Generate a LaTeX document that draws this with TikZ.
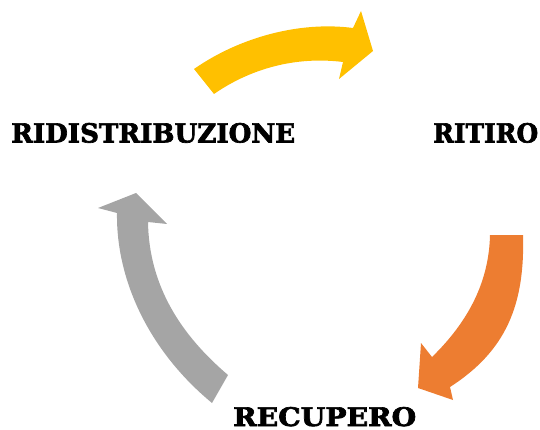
\documentclass[tikz,border=0pt]{standalone}
\usepackage{fontspec}
\usepackage{graphicx}
\setmainfont{DejaVu Serif}
\newfontfamily\heavyfont{DejaVu Serif}[FakeBold=2.5]
\definecolor{yel}{HTML}{FFC000}
\definecolor{ora}{HTML}{ED7D31}
\definecolor{gry}{HTML}{A5A5A5}
\tikzset{
  lbl/.style={inner sep=0pt, anchor=base west, font=\heavyfont\bfseries, text=black},
}
\begin{document}
\begin{tikzpicture}[x=1pt,y=-1pt]
\useasboundingbox (0,0) rectangle (540,430);
% labels
\node[lbl] (rid) at (11,142.5) {\resizebox{284pt}{19.5pt}{RIDISTRIBUZIONE}};
\node[lbl] (rit) at (433,142.5) {\resizebox{105pt}{19.5pt}{RITIRO}};
\node[lbl] (rec) at (233,426) {\resizebox{183pt}{19pt}{RECUPERO}};
% yellow arrow (ridistribuzione -> ritiro)
\fill[yel] (194,69) .. controls (240,37) and (300,21) .. (353,28)
  -- (361,11) -- (373,51) -- (339,79) -- (343,62)
  .. controls (295,56) and (250,69) .. (214,94) -- cycle;
% orange arrow (ritiro -> recupero)
\fill[ora] (490,235) -- (523,235) .. controls (525,305) and (506,351) .. (450,387)
  -- (453,400) -- (418,388) -- (421,343) -- (432,357)
  .. controls (469,321) and (489,281) .. (490,235) -- cycle;
% gray arrow (recupero -> ridistribuzione)
\fill[gry] (228,375) .. controls (181,335) and (149,286) .. (148,222)
  -- (167,224) -- (136,193) -- (98,208) -- (117,213)
  .. controls (116,280) and (149,351) .. (212,403) -- cycle;
\end{tikzpicture}
\end{document}
